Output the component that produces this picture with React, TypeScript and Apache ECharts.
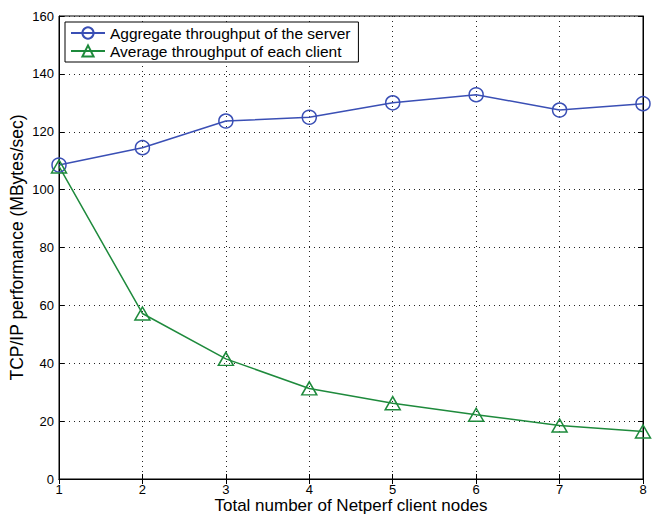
import React, { useEffect, useRef } from "react";
import * as echarts from "echarts";

const nodes = [1, 2, 3, 4, 5, 6, 7, 8];
const aggregateThroughput = [108.5, 114.5, 123.7, 125.0, 130.0, 132.8, 127.5, 129.7];
const averageThroughput = [108.0, 57.2, 41.5, 31.3, 26.2, 22.2, 18.5, 16.4];
const seriesNames = ["Aggregate throughput of the server", "Average throughput of each client"];
const xAxisTitle = "Total number of Netperf client nodes";
const yAxisTitle = "TCP/IP performance (MBytes/sec)";

const FONT = "'Liberation Sans', Arial, Helvetica, sans-serif";
const BLUE = "#3a4fb5";
const GREEN = "#1e8a3c";

export default function App() {
  const ref = useRef<HTMLDivElement>(null);
  useEffect(() => {
    if (!ref.current) return;
    const chart = echarts.init(ref.current, undefined, { renderer: "svg" });
    const axisLine = { show: true, lineStyle: { color: "#000", width: 1 } };
    const tick = { show: true, inside: true, length: 5, lineStyle: { color: "#000" } };
    chart.setOption({
      animation: false,
      backgroundColor: "#fff",
      grid: {
        left: 59, right: 10, top: 16, bottom: 37,
        show: true, borderColor: "#000", borderWidth: 1,
        containLabel: false, outerBoundsMode: "none",
      },
      legend: {
        orient: "vertical",
        left: 65,
        top: 22,
        backgroundColor: "#fff",
        borderColor: "#000",
        borderWidth: 1,
        padding: [3, 8, 3, 5],
        itemGap: 2,
        itemWidth: 34,
        itemHeight: 14,
        textStyle: { fontFamily: FONT, fontSize: 15.5, color: "#000" },
        data: seriesNames,
      },
      xAxis: [
        {
          type: "value",
          min: 1,
          max: 8,
          interval: 1,
          name: xAxisTitle,
          nameLocation: "middle",
          nameMoveOverlap: false,
          nameGap: 18,
          nameTextStyle: { fontFamily: FONT, fontSize: 17, color: "#000" },
          axisLine,
          axisTick: tick,
          axisLabel: { fontFamily: FONT, fontSize: 13, color: "#000", margin: 4 },
          splitLine: { show: true, lineStyle: { type: [1, 4], color: "#222", width: 1 } },
        },
        {
          type: "value",
          position: "top",
          min: 1,
          max: 8,
          interval: 1,
          axisLine,
          axisTick: tick,
          axisLabel: { show: false },
          splitLine: { show: false },
        },
      ],
      yAxis: [
        {
          type: "value",
          min: 0,
          max: 160,
          interval: 20,
          name: yAxisTitle,
          nameLocation: "middle",
          nameMoveOverlap: false,
          nameGap: 33,
          nameTextStyle: { fontFamily: FONT, fontSize: 17.5, color: "#000" },
          axisLine,
          axisTick: tick,
          axisLabel: { fontFamily: FONT, fontSize: 13, color: "#000", margin: 5 },
          splitLine: { show: true, lineStyle: { type: [1, 4], color: "#222", width: 1 } },
        },
        {
          type: "value",
          position: "right",
          min: 0,
          max: 160,
          interval: 20,
          axisLine,
          axisTick: tick,
          axisLabel: { show: false },
          splitLine: { show: false },
        },
      ],
      series: [
        {
          name: seriesNames[0],
          type: "line",
          data: nodes.map((n, i) => [n, aggregateThroughput[i]]),
          symbol: "circle",
          symbolSize: 14,
          clip: false,
          lineStyle: { color: BLUE, width: 1.5 },
          itemStyle: { color: "rgba(255,255,255,0)", borderColor: BLUE, borderWidth: 1.5 },
          emphasis: { disabled: true },
        },
        {
          name: seriesNames[1],
          type: "line",
          data: nodes.map((n, i) => [n, averageThroughput[i]]),
          symbol: "triangle",
          symbolSize: [15, 13],
          clip: false,
          lineStyle: { color: GREEN, width: 1.5 },
          itemStyle: { color: "rgba(255,255,255,0)", borderColor: GREEN, borderWidth: 1.5 },
          emphasis: { disabled: true },
        },
      ],
    });
    return () => chart.dispose();
  }, []);
  return <div ref={ref} style={{ width: 653, height: 516, position: "absolute", left: 0, top: 0 }} />;
}
